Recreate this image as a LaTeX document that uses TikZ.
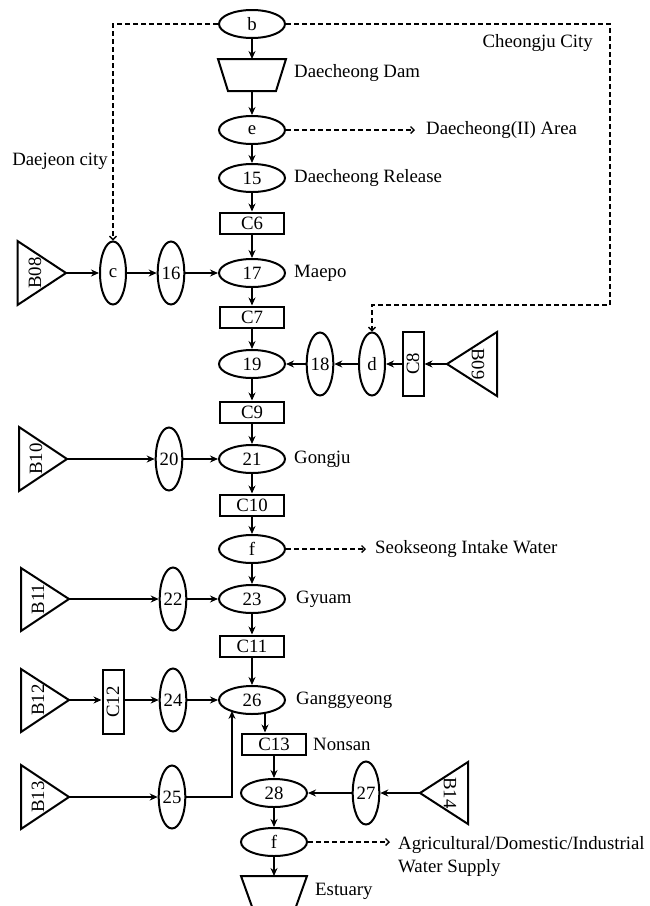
\documentclass[tikz,border=0pt]{standalone}
\usepackage{fontspec}
\setmainfont{Liberation Serif}
\usetikzlibrary{shapes.geometric,arrows.meta,calc}
\tikzset{
 hell/.style={ellipse, draw, line width=2pt, minimum width=66pt, minimum height=28pt, inner sep=0pt},
 vell/.style={ellipse, draw, line width=2pt, minimum width=26pt, minimum height=63pt, inner sep=0pt},
 hbox/.style={rectangle, draw, line width=2pt, minimum width=64pt, minimum height=21pt, inner sep=0pt},
 vbox/.style={rectangle, draw, line width=2pt, minimum width=21pt, minimum height=64pt, inner sep=0pt},
 tri/.style={draw, line width=2pt, line join=miter},
 lab/.style={inner sep=0pt, anchor=west},
 arr/.style={line width=1.7pt, -{Stealth[length=8pt,width=7pt]}},
 darr/.style={line width=1.3pt, dash pattern=on 5pt off 3pt, -{Straight Barb[length=3.5pt,width=7pt]}},
}
\begin{document}
\begin{tikzpicture}[x=1pt,y=-1pt,font=\fontsize{18.8}{23}\selectfont]
\useasboundingbox (0,0) rectangle (649,906);
\fill[white] (0,0) rectangle (649,906);
\begin{scope}
\clip (0,0) rectangle (649,906);
% main column
\node[hell] (b) at (252,24) {b};
\draw[tri] (218,59) -- (286,59) -- (276,91) -- (228,91) -- cycle;
\coordinate (damtop) at (252,59);
\coordinate (dambot) at (252,91);
\node[lab] (damlab) at (294,73) {Daecheong Dam};
\node[hell] (e) at (252,130) {e};
\node[lab] (e2) at (426,130) {Daecheong(II) Area};
\node[hell] (n15) at (252,178) {15};
\node[lab] (rel) at (294,178) {Daecheong Release};
\node[hbox] (C6) at (252,223) {C6};
\node[hell] (n17) at (252,273) {17};
\node[lab] (maepo) at (294,273) {Maepo};
\node[vell] (c) at (113,273) {c};
\node[vell] (n16) at (171,273) {16};
\draw[tri] (17.5,241) -- (66,273) -- (17.5,305) -- cycle;
\node[rotate=90, inner sep=0pt] (B08) at (35,273) {B08};
\coordinate (B08a) at (66,273);
\node[anchor=east, inner sep=0pt] (dj) at (108,161) {Daejeon city};
\node[anchor=east, inner sep=0pt] (cj) at (593,43) {Cheongju City};
\node[hbox] (C7) at (252,317) {C7};
\node[hell] (n19) at (252,364) {19};
\node[vell] (n18) at (320,364) {18};
\node[vell] (d) at (372,364) {d};
\node[vbox] (C8) at (413,364) {\rotatebox{90}{C8}};
\draw[tri] (497,332) -- (447,364) -- (497,396) -- cycle;
\node[rotate=-90, inner sep=0pt] (B09) at (478,364) {B09};
\coordinate (B09a) at (447,364);
\node[hbox] (C9) at (252,412) {C9};
\node[hell] (n21) at (252,459) {21};
\node[lab] (gongju) at (294,459) {Gongju};
\node[vell] (n20) at (169,459) {20};
\draw[tri] (19,427) -- (67,459) -- (19,491) -- cycle;
\node[rotate=90, inner sep=0pt] (B10) at (36,459) {B10};
\coordinate (B10a) at (67,459);
\node[hbox] (C10) at (252,505) {C10};
\node[hell] (f1) at (252,549) {f};
\node[lab] (sk) at (375,549) {Seokseong Intake Water};
\node[hell] (n23) at (252,599) {23};
\node[lab] (gyuam) at (296,599) {Gyuam};
\node[vell] (n22) at (173,599) {22};
\draw[tri] (21,568) -- (69,599) -- (21,631) -- cycle;
\node[rotate=90, inner sep=0pt] (B11) at (38,599) {B11};
\coordinate (B11a) at (69,599);
\node[hbox] (C11) at (252,646) {C11};
\node[hell] (n26) at (252,700) {26};
\node[lab] (gang) at (296,700) {Ganggyeong};
\node[vell] (n24) at (173,700) {24};
\node[vbox] (C12) at (113,702) {\rotatebox{90}{C12}};
\draw[tri] (21,669) -- (69,700) -- (21,732) -- cycle;
\node[rotate=90, inner sep=0pt] (B12) at (38,700) {B12};
\coordinate (B12a) at (69,700);
\node[hbox] (C13) at (274,744) {C13};
\node[lab] (nonsan) at (313,744) {Nonsan};
\node[hell] (n28) at (274,793) {28};
\node[vell] (n25) at (172,797) {25};
\draw[tri] (21,765) -- (69,797) -- (21,829) -- cycle;
\node[rotate=90, inner sep=0pt] (B13) at (38,797) {B13};
\coordinate (B13a) at (69,797);
\node[vell] (n27) at (366,793) {27};
\draw[tri] (468,762) -- (420,793) -- (468,824) -- cycle;
\node[rotate=-90, inner sep=0pt] (B14) at (450,793) {B14};
\coordinate (B14a) at (420,793);
\node[hell] (f2) at (274,842) {f};
\node[inner sep=0pt, anchor=north west, align=left] (ag) at (398,836) {Agricultural/Domestic/Industrial\\Water Supply};
\draw[tri] (241,876) -- (307,876) -- (293,915) -- (255,915) -- cycle;
\coordinate (esttop) at (274,876);
\node[lab] (est) at (315,891) {Estuary};
% solid connectors
\draw[arr] (b) -- (damtop);
\draw[arr] (dambot) -- (e);
\draw[arr] (e) -- (n15);
\draw[arr] (n15) -- (C6);
\draw[arr] (C6) -- (n17);
\draw[arr] (B08a) -- (c);
\draw[arr] (c) -- (n16);
\draw[arr] (n16) -- (n17);
\draw[arr] (n17) -- (C7);
\draw[arr] (C7) -- (n19);
\draw[arr] (B09a) -- (C8);
\draw[arr] (C8) -- (d);
\draw[arr] (d) -- (n18);
\draw[arr] (n18) -- (n19);
\draw[arr] (n19) -- (C9);
\draw[arr] (C9) -- (n21);
\draw[arr] (B10a) -- (n20);
\draw[arr] (n20) -- (n21);
\draw[arr] (n21) -- (C10);
\draw[arr] (C10) -- (f1);
\draw[arr] (f1) -- (n23);
\draw[arr] (B11a) -- (n22);
\draw[arr] (n22) -- (n23);
\draw[arr] (n23) -- (C11);
\draw[arr] (C11) -- (n26);
\draw[arr] (B12a) -- (B12a -| C12.west);
\draw[arr] (C12.east |- n24) -- (n24);
\draw[arr] (n24) -- (n26);
\coordinate (k1) at (265,0);
\draw[arr] ($(n26.center)+(13,12.8)$) -- (k1 |- C13.north);
\draw[arr] (C13) -- (n28);
\draw[arr] (B13a) -- (n25);
\draw[arr] (n25.east) -| ($(n26.center)+(-20,10.9)$);
\draw[arr] (B14a) -- (n27);
\draw[arr] (n27) -- (n28);
\draw[arr] (n28) -- (f2);
\draw[arr] (f2) -- (esttop);
% dashed connectors
\coordinate (dl) at (113,24);
\draw[darr] (b.west) -- (dl) -- (c.north);
\coordinate (dr1) at (610,24);
\coordinate (dr2) at (610,305);
\coordinate (dr3) at (372,305);
\draw[darr] (b.east) -- (dr1) -- (dr2) -- (dr3) -- (d.north);
\draw[darr, shorten >=11pt] (e.east) -- (e2.west);
\draw[darr, shorten >=9pt] (f1.east) -- (sk.west);
\draw[darr, shorten >=8pt] (f2.east) -- (ag.west |- f2.east);
\end{scope}
\end{tikzpicture}
\end{document}
